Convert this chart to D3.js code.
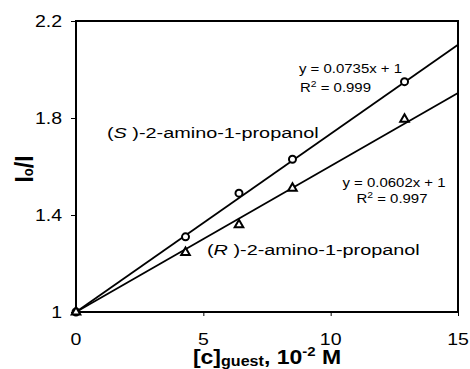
<!DOCTYPE html>
<html lang="en">
<head>
  <meta charset="UTF-8">
  <title>Io/I vs guest concentration</title>
  <style>
    body { margin: 0; background: #fff; }
    svg text { font-family: "Liberation Sans", Arial, sans-serif; fill: #000; }
    .axis path, .axis line { stroke: #000; }
  </style>
</head>
<body>
  <svg class="chart"></svg>
  <script src="https://cdn.jsdelivr.net/npm/d3@7/dist/d3.min.js"></script>
  <script>
    // data
    var conc = [0, 4.3, 6.4, 8.5, 12.9];
    var sValues = [1, 1.31, 1.49, 1.63, 1.95];
    var rValues = [1, 1.245, 1.36, 1.51, 1.795];
    var sFit = {slope: 0.0735, intercept: 1, r2: "0.999"};
    var rFit = {slope: 0.0602, intercept: 1, r2: "0.997"};
    var xTicks = [0, 5, 10, 15];
    var yTicks = [1, 1.4, 1.8, 2.2];

    var W = 470, H = 369;
    var plotL = 76, plotR = 458, plotT = 21, plotB = 312;
    var sx = 1.22; // the original's text looks stretched sideways

    var svg = d3.select(".chart").attr("width", W).attr("height", H);

    var x = d3.scaleLinear().domain([0, 15]).range([plotL, plotR]);
    var y = d3.scaleLinear().domain([1, 2.2]).range([plotB, plotT]);

    // axes
    var xAxis = svg.append("g")
      .attr("class", "axis")
      .attr("transform", "translate(0," + plotB + ")")
      .call(d3.axisBottom(x).tickValues(xTicks).tickSize(4).tickFormat(""));
    xAxis.select(".domain").remove();
    xAxis.selectAll("line").attr("stroke-width", 1).attr("stroke", "#555");

    var yAxis = svg.append("g")
      .attr("class", "axis")
      .attr("transform", "translate(" + plotL + ",0)")
      .call(d3.axisLeft(y).tickValues(yTicks).tickSize(5).tickFormat(""));
    yAxis.select(".domain").remove();
    yAxis.selectAll("line").attr("stroke-width", 1).attr("stroke", "#555");

    // stretched text helper
    function label(px, py, anchor, size, weight, k) {
      return svg.append("text")
        .attr("transform", "translate(" + px + "," + py + ") scale(" + (k || sx) + ",1)")
        .attr("text-anchor", anchor)
        .style("font-size", size + "px")
        .style("font-weight", weight || "normal");
    }

    xTicks.forEach(function(t) {
      label(x(t), 345, "middle", 16).text(t);
    });
    yTicks.forEach(function(t) {
      label(plotL - 14, y(t) + 6, "end", 16).text(d3.format("~g")(t));
    });

    // plot box
    svg.append("rect")
      .attr("x", plotL).attr("y", plotT)
      .attr("width", plotR - plotL).attr("height", plotB - plotT)
      .attr("fill", "none").attr("stroke", "#000").attr("stroke-width", 2);

    // fit lines
    var line = d3.line().x(function(d) { return x(d); });
    [sFit, rFit].forEach(function(f) {
      svg.append("path")
        .datum(x.domain())
        .attr("d", line.y(function(d) { return y(f.slope * d + f.intercept); }))
        .attr("fill", "none").attr("stroke", "#000").attr("stroke-width", 1.8);
    });

    // markers
    svg.selectAll(".pt-s").data(conc).enter().append("circle")
      .attr("class", "pt-s")
      .attr("cx", function(d) { return x(d); })
      .attr("cy", function(d, i) { return y(sValues[i]); })
      .attr("r", 3.5)
      .attr("fill", "#fff").attr("stroke", "#000").attr("stroke-width", 2);

    var tri = d3.symbol().type(d3.symbolTriangle).size(32);
    svg.selectAll(".pt-r").data(conc).enter().append("path")
      .attr("class", "pt-r")
      .attr("d", tri)
      .attr("transform", function(d, i) { return "translate(" + x(d) + "," + y(rValues[i]) + ")"; })
      .attr("fill", "#fff").attr("stroke", "#000").attr("stroke-width", 2);

    // equations
    label(299, 73, "start", 13, "normal", 1.15).text("y = " + sFit.slope + "x + " + sFit.intercept);
    var r1 = label(300, 92, "start", 13, "normal", 1.15);
    r1.append("tspan").text("R");
    r1.append("tspan").attr("dy", -5).style("font-size", "9px").text("2");
    r1.append("tspan").attr("dy", 5).text(" = " + sFit.r2);

    label(394, 187, "middle", 13, "normal", 1.15).text("y = " + rFit.slope + "x + " + rFit.intercept);
    var r2 = label(392, 203, "middle", 13, "normal", 1.15);
    r2.append("tspan").text("R");
    r2.append("tspan").attr("dy", -5).style("font-size", "9px").text("2");
    r2.append("tspan").attr("dy", 5).text(" = " + rFit.r2);

    // series names
    var sl = label(107, 138, "start", 15.5, "normal", 1.28);
    sl.append("tspan").text("(");
    sl.append("tspan").style("font-style", "italic").text("S");
    sl.append("tspan").text(" )-2-amino-1-propanol");

    var rl = label(207, 255, "start", 15.5, "normal", 1.28);
    rl.append("tspan").text("(");
    rl.append("tspan").style("font-style", "italic").text("R");
    rl.append("tspan").text(" )-2-amino-1-propanol");

    // axis titles
    var xt = label(267, 364, "middle", 20, "bold", 1.15);
    xt.append("tspan").text("[c]");
    xt.append("tspan").attr("dy", 2).style("font-size", "14px").text("guest");
    xt.append("tspan").attr("dy", -2).text(", 10");
    xt.append("tspan").attr("dy", -8).style("font-size", "13px").text("-2");
    xt.append("tspan").attr("dy", 8).text(" M");

    var yt = svg.append("text")
      .attr("transform", "translate(33,169) scale(1.15,1) rotate(-90)")
      .attr("text-anchor", "middle")
      .style("font-size", "23px").style("font-weight", "bold");
    yt.append("tspan").text("I");
    yt.append("tspan").style("font-size", "13px").text("o");
    yt.append("tspan").text("/I");
  </script>
</body>
</html>
